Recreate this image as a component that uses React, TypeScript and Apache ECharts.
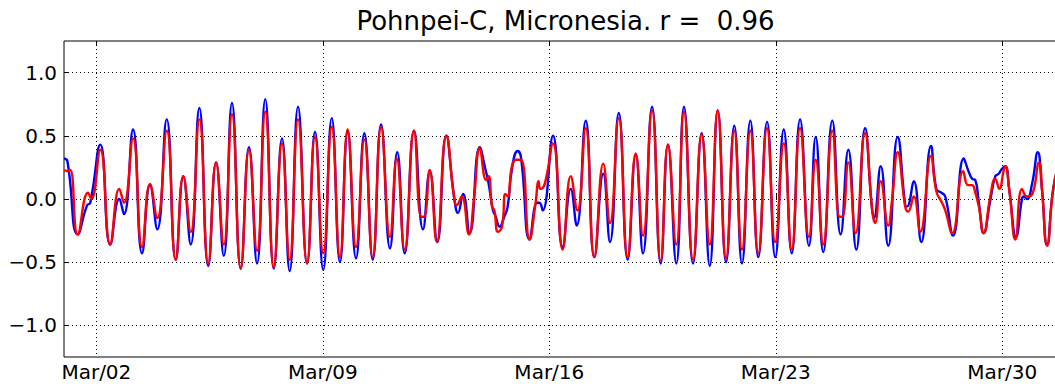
import React, { useEffect, useRef } from "react";
import * as echarts from "echarts";

// Time in hours since Mar 01 00:00
const obsHours = [0, 2.5, 10.2, 17.1, 19.5, 26.9, 34.3, 41.0, 44.5, 51.2, 57.9, 63.8, 69.2, 76.2, 82.9, 88.5, 94.0, 100.4, 107.0, 112.8, 118.5, 124.6, 131.1, 137.2, 143.2, 149.3, 155.6, 161.7, 167.4, 173.6, 180.3, 186.2, 192.3, 198.6, 204.7, 210.4, 216.6, 222.8, 229.0, 235.2, 241.8, 247.2, 252.7, 259.6, 266.3, 271.3, 276.9, 283.6, 289.3, 292.3, 296.0, 300.9, 308.4, 312.5, 315.0, 318.2, 319.9, 323.2, 326.2, 329.1, 332.3, 336.5, 339.0, 345.4, 350.9, 352.6, 355.1, 362.7, 369.9, 375.9, 380.3, 387.0, 393.4, 400.0, 405.0, 411.5, 418.1, 424.1, 429.5, 436.2, 442.6, 448.0, 454.2, 459.9, 466.6, 473.0, 479.0, 484.9, 491.1, 497.2, 502.9, 509.1, 515.0, 521.5, 527.6, 533.9, 539.8, 546.0, 552.6, 557.6, 563.2, 569.9, 576.1, 581.8, 587.7, 594.2, 599.1, 600.8, 605.8, 611.4, 618.4, 624.0, 625.3, 630.3, 635.9, 643.1, 647.1, 650.8, 653.7, 659.5, 667.4, 670.6, 673.6, 676.0, 678.6, 682.2, 687.1, 690.8, 693.3, 695.8, 698.2, 701.2, 706.2, 710.6, 711.9, 714.3, 718.1, 722.3, 725.5, 729.2, 735.1, 743.3];
const obsValues = [0.32, 0.30, -0.28, -0.05, -0.03, 0.43, -0.36, 0.00, -0.12, 0.55, -0.43, 0.11, -0.24, 0.63, -0.48, 0.18, -0.36, 0.72, -0.53, 0.29, -0.45, 0.76, -0.55, 0.41, -0.51, 0.79, -0.55, 0.48, -0.57, 0.73, -0.51, 0.53, -0.56, 0.64, -0.50, 0.53, -0.47, 0.52, -0.48, 0.59, -0.39, 0.37, -0.43, 0.54, -0.24, 0.22, -0.34, 0.50, 0.02, -0.11, 0.04, -0.27, 0.41, 0.24, 0.12, -0.09, -0.13, -0.22, -0.15, -0.06, 0.24, 0.38, 0.33, -0.32, -0.03, -0.03, -0.09, 0.50, -0.38, 0.08, -0.21, 0.62, -0.46, 0.20, -0.34, 0.68, -0.48, 0.35, -0.43, 0.73, -0.51, 0.43, -0.51, 0.73, -0.51, 0.52, -0.53, 0.70, -0.50, 0.58, -0.51, 0.62, -0.46, 0.61, -0.46, 0.55, -0.43, 0.63, -0.37, 0.49, -0.42, 0.62, -0.28, 0.39, -0.40, 0.56, -0.05, -0.15, 0.26, -0.37, 0.49, -0.05, -0.06, 0.14, -0.34, 0.42, 0.08, 0.05, 0.02, -0.29, 0.32, 0.23, 0.16, 0.15, -0.03, -0.27, -0.01, 0.18, 0.20, 0.24, 0.26, 0.07, -0.30, 0.00, 0.02, 0.00, 0.12, 0.37, 0.07, -0.36, 0.16, 0.35];

const modelHours = [0, 3.0, 4.7, 10.2, 17.8, 20.3, 26.9, 34.3, 41.0, 44.5, 51.2, 57.9, 63.8, 69.2, 76.2, 82.9, 88.5, 94.0, 100.4, 107.0, 112.8, 118.5, 124.6, 131.1, 137.2, 143.2, 149.3, 155.6, 161.7, 167.4, 173.6, 180.3, 186.2, 192.3, 198.6, 204.7, 210.4, 216.6, 222.8, 229.0, 235.2, 241.8, 246.8, 252.7, 259.6, 265.0, 267.0, 271.3, 276.5, 283.6, 289.3, 291.3, 295.0, 300.4, 304.1, 308.4, 313.2, 315.0, 317.5, 319.2, 321.9, 324.9, 327.4, 329.1, 332.3, 335.5, 339.0, 345.4, 349.6, 352.1, 353.3, 356.6, 362.7, 369.9, 375.9, 380.8, 387.0, 393.4, 400.0, 405.0, 411.5, 418.1, 424.1, 429.5, 436.2, 442.6, 448.0, 454.2, 459.9, 466.6, 473.0, 479.0, 484.9, 491.1, 497.2, 502.9, 509.1, 515.0, 521.5, 527.6, 533.9, 539.8, 546.0, 552.6, 557.6, 563.2, 569.9, 575.4, 577.3, 581.8, 587.2, 594.2, 599.6, 601.6, 605.8, 611.4, 614.2, 618.4, 624.0, 626.1, 630.3, 635.2, 643.1, 647.1, 651.3, 653.7, 658.9, 667.0, 670.6, 673.6, 676.0, 678.6, 682.2, 687.1, 690.8, 693.8, 697.1, 698.2, 701.2, 705.7, 710.6, 714.3, 717.8, 723.3, 725.5, 729.2, 735.1, 743.3];
const modelValues = [0.23, 0.22, 0.23, -0.28, 0.05, 0.00, 0.39, -0.36, 0.08, -0.03, 0.48, -0.38, 0.12, -0.15, 0.54, -0.48, 0.18, -0.26, 0.63, -0.51, 0.29, -0.36, 0.67, -0.55, 0.39, -0.41, 0.69, -0.54, 0.44, -0.48, 0.63, -0.51, 0.49, -0.43, 0.57, -0.46, 0.55, -0.38, 0.47, -0.46, 0.57, -0.30, 0.32, -0.40, 0.54, -0.14, -0.14, 0.23, -0.34, 0.50, 0.02, -0.05, 0.02, -0.28, 0.00, 0.40, 0.15, 0.18, -0.06, -0.09, -0.26, -0.22, 0.04, 0.02, 0.26, 0.31, 0.31, -0.32, -0.05, 0.14, 0.08, 0.12, 0.44, -0.40, 0.18, -0.09, 0.56, -0.46, 0.28, -0.19, 0.64, -0.46, 0.36, -0.29, 0.70, -0.49, 0.43, -0.36, 0.69, -0.48, 0.51, -0.36, 0.70, -0.47, 0.54, -0.40, 0.54, -0.43, 0.56, -0.34, 0.44, -0.40, 0.56, -0.30, 0.31, -0.36, 0.54, -0.14, -0.14, 0.29, -0.27, 0.52, -0.10, -0.19, 0.14, -0.21, -0.01, 0.37, -0.06, -0.10, 0.02, -0.26, 0.34, 0.06, -0.03, -0.09, -0.27, 0.22, 0.11, 0.11, 0.05, -0.06, -0.27, 0.02, 0.16, 0.08, 0.23, 0.26, 0.07, -0.32, 0.08, 0.02, 0.03, 0.29, 0.07, -0.37, 0.16, 0.38];

const xTickHours = [24, 192, 360, 528, 696];
const xTickLabels = ["Mar/02", "Mar/09", "Mar/16", "Mar/23", "Mar/30"];
const yTicks = [-1.0, -0.5, 0.0, 0.5, 1.0];
const titleText = "Pohnpei-C, Micronesia. r =  0.96";

const FONT = "DejaVu Sans";

export default function App() {
  const ref = useRef<HTMLDivElement>(null);
  useEffect(() => {
    if (!ref.current) return;
    const chart = echarts.init(ref.current, null, { renderer: "svg" });
    const obs = obsHours.map((h, i) => [h, obsValues[i]]);
    const model = modelHours.map((h, i) => [h, modelValues[i]]);
    const dotted = { type: [1, 3] as any, color: "#000", width: 1 };
    const fmtY = (v: number) => {
      const s = Math.abs(v).toFixed(1);
      return v < 0 ? "\u2212" + s : s;
    };
    const fmtX = (v: number) => {
      const i = xTickHours.indexOf(Math.round(v));
      return i >= 0 ? xTickLabels[i] : "";
    };
    chart.setOption({
      animation: false,
      backgroundColor: "#fff",
      grid: {
        left: 64,
        top: 41,
        right: 1,
        bottom: 31,
        show: true,
        borderColor: "#000",
        borderWidth: 1,
        backgroundColor: "transparent",
      },
      graphic: [
        {
          type: "text",
          x: 565.5,
          y: 21,
          style: {
            text: titleText,
            fontFamily: FONT,
            fontSize: 26,
            fill: "#000",
            textAlign: "center",
            textVerticalAlign: "middle",
          },
        },
      ],
      xAxis: [
        {
          type: "value",
          min: 0,
          max: 744,
          position: "bottom",
          axisLine: { show: false },
          axisTick: { show: true, inside: true, length: 5, customValues: xTickHours, lineStyle: { color: "#000" } },
          axisLabel: {
            customValues: xTickHours,
            formatter: fmtX,
            fontFamily: FONT,
            fontSize: 20,
            color: "#000",
            margin: 5,
          },
          splitLine: { show: true, lineStyle: dotted },
        },
        {
          type: "value",
          min: 0,
          max: 744,
          position: "top",
          axisLine: { show: false },
          axisTick: { show: true, inside: true, length: 5, customValues: xTickHours, lineStyle: { color: "#000" } },
          axisLabel: { show: false },
          splitLine: { show: false },
        },
      ],
      yAxis: [
        {
          type: "value",
          min: -1.25,
          max: 1.25,
          position: "left",
          axisLine: { show: false },
          axisTick: { show: true, inside: true, length: 5, customValues: yTicks, lineStyle: { color: "#000" } },
          axisLabel: {
            customValues: yTicks,
            formatter: fmtY,
            fontFamily: FONT,
            fontSize: 20,
            color: "#000",
            margin: 7,
          },
          splitLine: { show: true, lineStyle: dotted },
        },
      ],
      series: [
        {
          name: "observed",
          type: "line",
          xAxisIndex: 0,
          yAxisIndex: 0,
          data: obs,
          smooth: 0.5,
          showSymbol: false,
          lineStyle: { color: "#0000ff", width: 2.4 },
          itemStyle: { color: "#0000ff" },
          z: 2,
        },
        {
          name: "model",
          type: "line",
          xAxisIndex: 0,
          yAxisIndex: 0,
          data: model,
          smooth: 0.5,
          showSymbol: false,
          lineStyle: { color: "#ff0000", width: 2.4 },
          itemStyle: { color: "#ff0000" },
          z: 3,
        },
      ],
    });
    return () => chart.dispose();
  }, []);
  return (
    <div style={{ position: "fixed", left: 0, top: 0, width: 1055, height: 388, overflow: "hidden", background: "#fff" }}>
      <div ref={ref} style={{ width: 1068, height: 388 }} />
    </div>
  );
}
